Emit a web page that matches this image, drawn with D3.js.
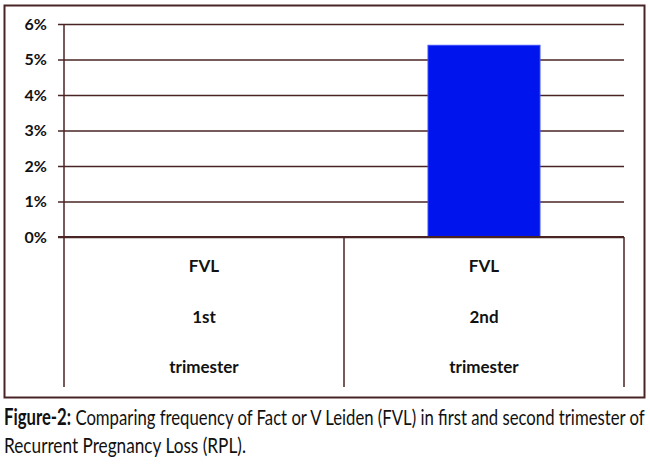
<!DOCTYPE html>
<html>
<head>
<meta charset="utf-8">
<script src="https://cdn.jsdelivr.net/npm/d3@7"></script>
<style>
  body { margin: 0; background: #fff; }
  svg { display: block; }
</style>
</head>
<body>
<svg id="chart" width="650" height="464"></svg>
<script>
// data
var categories = ["FVL 1st trimester", "FVL 2nd trimester"]
var labelLines = [["FVL", "1st", "trimester"], ["FVL", "2nd", "trimester"]]
var values = [0, 5.4]
var yTicks = [0, 1, 2, 3, 4, 5, 6]

var lineColor = "#4a2424"
var labelFont = "Lato, 'Open Sans', sans-serif"
var svg = d3.select("#chart")

var left = 64, right = 624
var x = d3.scaleBand().domain(categories).range([left, right]).paddingInner(0).paddingOuter(0)
var y = d3.scaleLinear().domain([0, 6]).range([237, 24])

// outer frame
svg.append("rect")
  .attr("x", 4.5).attr("y", 5.5)
  .attr("width", 640).attr("height", 392)
  .attr("fill", "none")
  .attr("stroke", lineColor)
  .attr("stroke-width", 2)

// gridlines + tick marks
svg.append("g")
  .attr("transform", "translate(" + left + ",0)")
  .call(d3.axisLeft(y).tickValues(yTicks).tickSize(-(right - left)).tickSizeOuter(0)
    .tickFormat(d => d + "%"))
  .call(g => g.select(".domain").remove())
  .call(g => g.selectAll(".tick line")
    .attr("x1", -6)
    .attr("stroke", lineColor).attr("stroke-width", 1.5))
  .call(g => g.selectAll(".tick text")
    .attr("x", -17)
    .attr("font-family", labelFont)
    .attr("font-weight", "bold")
    .attr("font-size", 16)
    .attr("fill", "#111"))

// bars
svg.append("g").selectAll("rect")
  .data(values)
  .enter()
  .append("rect")
    .attr("x", (d, i) => x(categories[i]) + x.bandwidth() * 0.3)
    .attr("width", x.bandwidth() * 0.4)
    .attr("y", d => y(d))
    .attr("height", d => y(0) - y(d))
    .attr("fill", "#0014ee")
    .attr("stroke", "#3a4dff")
    .attr("stroke-width", 1)
    .style("display", d => d > 0 ? null : "none")

// y axis line, running down into the category table
svg.append("line")
  .attr("x1", left).attr("x2", left)
  .attr("y1", y(6)).attr("y2", 387)
  .attr("stroke", lineColor).attr("stroke-width", 1.5)

// category table below the axis
var bounds = categories.map(c => x(c)).concat([x.range()[1]])
svg.append("g").selectAll("line")
  .data(bounds.slice(1))
  .enter()
  .append("line")
    .attr("x1", d => d).attr("x2", d => d)
    .attr("y1", y(0)).attr("y2", 387)
    .attr("stroke", lineColor).attr("stroke-width", 1.5)

svg.append("line")
  .attr("x1", left - 6).attr("x2", right)
  .attr("y1", y(0)).attr("y2", y(0))
  .attr("stroke", lineColor).attr("stroke-width", 2)

var lineY = [272, 323, 373]
svg.append("g").selectAll("text")
  .data(categories)
  .enter()
  .append("text")
    .attr("text-anchor", "middle")
    .attr("font-family", labelFont)
    .attr("font-weight", "bold")
    .attr("font-size", 17)
    .attr("fill", "#111")
    .each(function(d, i) {
      var t = d3.select(this)
      labelLines[i].forEach(function(s, j) {
        t.append("tspan")
          .attr("x", x(d) + x.bandwidth() / 2)
          .attr("y", lineY[j])
          .text(s)
      })
    })

// caption, squeezed horizontally like the condensed original
function caption(yPos, parts, width) {
  var g = svg.append("g")
  var t = g.append("text")
    .attr("x", 0).attr("y", 0)
    .attr("font-family", labelFont)
    .attr("font-size", 22)
    .attr("fill", "#111")
  parts.forEach(p => t.append("tspan").attr("font-weight", p.bold ? "bold" : "normal").text(p.text))
  var w = t.node().getComputedTextLength()
  g.attr("transform", "translate(4," + yPos + ") scale(" + (width / w) + ",1)")
}
caption(425, [{text: "Figure-2:", bold: true},
  {text: " Comparing frequency of Fact or V Leiden (FVL) in first and second trimester of"}], 641)
caption(453, [{text: "Recurrent Pregnancy Loss (RPL)."}], 242)
</script>
</body>
</html>
